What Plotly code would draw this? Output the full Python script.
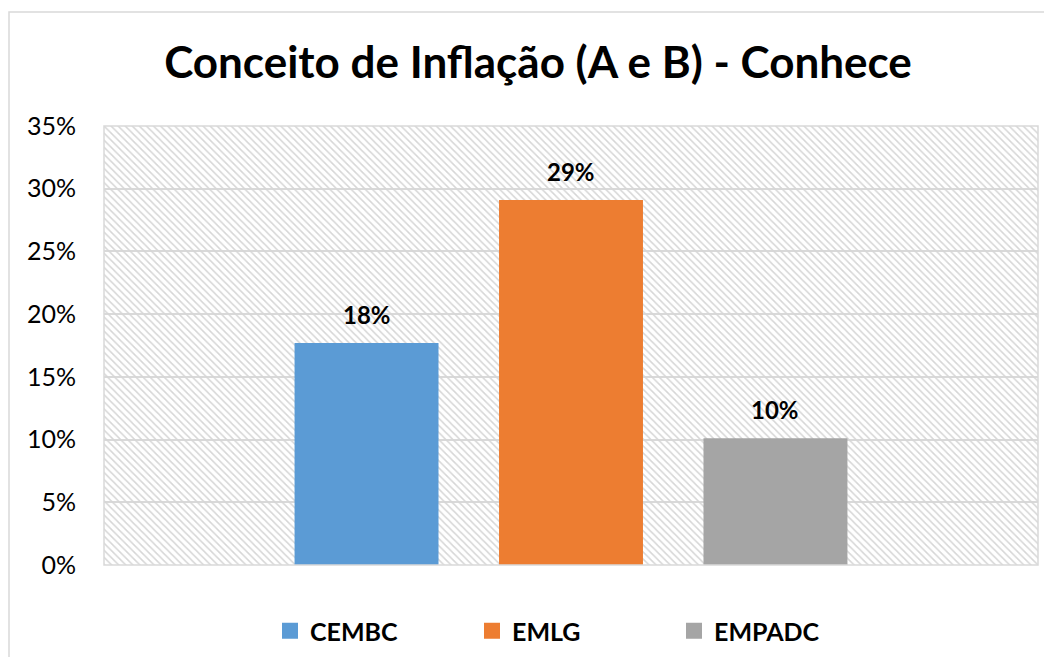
import plotly.graph_objects as go

categories = ["CEMBC", "EMLG", "EMPADC"]
values = [0.177, 0.291, 0.101]
labels = ["18%", "29%", "10%"]
colors = ["#5B9BD5", "#ED7D31", "#A5A5A5"]
title_text = "Conceito de Inflação (A e B) - Conhece"

# page has an 8px body margin, so the figure is sized/offset to compensate
OFF = 8
W, H = 1052 - OFF, 657 - OFF
L, R, T, B = 104 - OFF, 1052 - 1038, 126 - OFF, 657 - 565
pw, ph = W - L - R, H - T - B

fig = go.Figure()

# hatched plot-area background on the hidden main x axis
fig.add_trace(go.Bar(
    x=[0.5], y=[0.35], width=[1], xaxis="x", yaxis="y",
    marker=dict(color="rgba(0,0,0,0)", line=dict(width=0),
                pattern=dict(shape="\\", fgcolor="#d6d6d6", bgcolor="rgba(0,0,0,0)",
                             fillmode="replace", size=5, solidity=0.3)),
    showlegend=False, hoverinfo="skip",
))

for c, v, col in zip(categories, values, colors):
    fig.add_trace(go.Bar(
        x=[c], y=[v], name=c, xaxis="x2", yaxis="y",
        marker=dict(color=col, line=dict(width=0)),
        showlegend=False,
    ))

# legend entries with larger square symbols
for c, col in zip(categories, colors):
    fig.add_trace(go.Scatter(
        x=[None], y=[None], mode="markers", name="<b>%s</b>" % c,
        xaxis="x2", yaxis="y",
        marker=dict(symbol="square", size=17, color=col),
    ))

for c, v, t in zip(categories, values, labels):
    fig.add_annotation(x=c, y=v, xref="x2", yref="y", text="<b>%s</b>" % t,
                       showarrow=False, yanchor="bottom", yshift=12,
                       font=dict(family="Lato", size=24, color="#000000"))

fig.update_layout(
    width=W, height=H,
    margin=dict(l=L, r=R, t=T, b=B, autoexpand=False),
    paper_bgcolor="white", plot_bgcolor="rgba(0,0,0,0)",
    barmode="overlay", bargap=0.296,
    title=dict(text="<b>%s</b>" % title_text, x=(538 - OFF) / W, xanchor="center",
               y=1 - 55 / H, yanchor="middle",
               font=dict(family="Lato", size=44, color="#000000")),
    xaxis=dict(range=[0, 1], visible=False, fixedrange=True),
    xaxis2=dict(overlaying="x", type="category", categoryorder="array",
                categoryarray=categories, range=[-1.284, 3.284],
                showticklabels=False, showgrid=False, zeroline=False, ticks=""),
    yaxis=dict(range=[0, 0.35], dtick=0.05, tickformat=".0%",
               showgrid=True, gridcolor="#d9d9d9", gridwidth=1.5,
               zeroline=False, ticks="", ticklabelstandoff=27,
               tickfont=dict(family="Lato", size=25, color="#000000")),
    legend=dict(orientation="h", x=(573 - OFF - L) / pw, xanchor="center",
                y=-(631 - 565) / ph, yanchor="middle",
                entrywidth=157, itemsizing="trace",
                font=dict(family="Lato", size=25, color="#000000"),
                bgcolor="rgba(0,0,0,0)"),
    showlegend=True,
    font=dict(family="Lato"),
)

# plot area border
fig.add_shape(type="rect", xref="paper", yref="paper", x0=0, x1=1, y0=0, y1=1,
              line=dict(color="#d9d9d9", width=1.5), fillcolor="rgba(0,0,0,0)", layer="above")
# outer chart border (partially visible)
fig.add_shape(type="rect", xref="paper", yref="paper",
              x0=(9 - OFF - L) / pw, x1=1.2, y0=-0.5, y1=1 + (T - (12 - OFF)) / ph,
              line=dict(color="#d9d9d9", width=1.5), fillcolor="rgba(0,0,0,0)")

fig.write_html("out.html")
